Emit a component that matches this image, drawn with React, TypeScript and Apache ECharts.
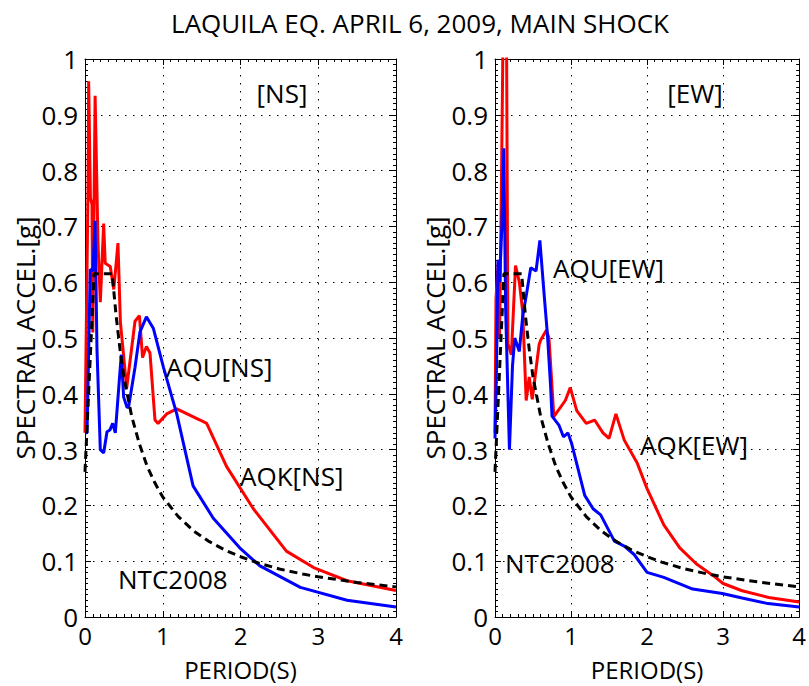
import React, { useEffect, useRef } from "react";
import * as echarts from "echarts";

const TITLE = "LAQUILA EQ. APRIL 6, 2009, MAIN SHOCK";
const X_NAME = "PERIOD(S)";
const Y_NAME = "SPECTRAL ACCEL.[g]";

// Period (s), spectral acceleration (g)
const NTC2008: number[][] = [
  [0, 0.26], [0.117, 0.615], [0.35, 0.615], [0.4, 0.54], [0.45, 0.48], [0.5, 0.43],
  [0.6, 0.36], [0.7, 0.31], [0.8, 0.27], [0.9, 0.24], [1.0, 0.215], [1.2, 0.18],
  [1.4, 0.154], [1.6, 0.135], [1.8, 0.12], [2.0, 0.108], [2.2, 0.098], [2.5, 0.086],
  [2.8, 0.077], [3.0, 0.072], [3.5, 0.062], [4.0, 0.054],
];

const AQK_NS: number[][] = [
  [0, 0.33], [0.039, 0.77], [0.047, 0.96], [0.07, 0.75], [0.09, 0.74], [0.1, 0.51],
  [0.13, 0.934], [0.167, 0.67], [0.197, 0.564], [0.24, 0.705], [0.26, 0.634],
  [0.325, 0.628], [0.37, 0.587], [0.424, 0.67], [0.455, 0.529], [0.536, 0.41],
  [0.643, 0.53], [0.7, 0.54], [0.74, 0.465], [0.79, 0.485], [0.836, 0.473],
  [0.9, 0.353], [0.94, 0.347], [1.05, 0.364], [1.18, 0.373], [1.48, 0.353],
  [1.565, 0.347], [1.82, 0.27], [2.165, 0.194], [2.59, 0.118], [2.94, 0.0886],
  [3.37, 0.065], [4.0, 0.0475],
];

const AQU_NS: number[][] = [
  [0, 0.33], [0.026, 0.33], [0.068, 0.623], [0.1, 0.62], [0.13, 0.71], [0.154, 0.48],
  [0.197, 0.3], [0.24, 0.294], [0.283, 0.332], [0.32, 0.335], [0.356, 0.347],
  [0.39, 0.33], [0.45, 0.44], [0.467, 0.47], [0.497, 0.394], [0.54, 0.376],
  [0.56, 0.376], [0.643, 0.447], [0.707, 0.511], [0.79, 0.538], [0.88, 0.517],
  [1.01, 0.447], [1.18, 0.364], [1.39, 0.235], [1.65, 0.177], [1.99, 0.124],
  [2.25, 0.0915], [2.77, 0.053], [3.37, 0.03], [4.0, 0.018],
];

const AQK_EW: number[][] = [
  [0, 0.33], [0.013, 0.57], [0.045, 0.64], [0.06, 0.5], [0.085, 0.78], [0.11, 1.1],
  [0.15, 1.1], [0.17, 0.49], [0.215, 0.47], [0.27, 0.63], [0.32, 0.6], [0.365, 0.546],
  [0.41, 0.388], [0.45, 0.43], [0.49, 0.39], [0.58, 0.488], [0.6, 0.496],
  [0.675, 0.514], [0.71, 0.5], [0.774, 0.359], [0.925, 0.388], [0.99, 0.411],
  [1.075, 0.37], [1.2, 0.347], [1.31, 0.353], [1.42, 0.33], [1.5, 0.32], [1.59, 0.364],
  [1.7, 0.317], [1.87, 0.276], [2.0, 0.23], [2.22, 0.165], [2.43, 0.124],
  [2.65, 0.095], [2.9, 0.071], [3.0, 0.06], [3.25, 0.047], [3.6, 0.035], [4.0, 0.027],
];

const AQU_EW: number[][] = [
  [0, 0.32], [0.02, 0.45], [0.04, 0.64], [0.06, 0.6], [0.09, 0.7], [0.116, 0.84],
  [0.14, 0.55], [0.19, 0.3], [0.23, 0.45], [0.26, 0.5], [0.32, 0.476], [0.365, 0.54],
  [0.416, 0.58], [0.47, 0.626], [0.54, 0.62], [0.59, 0.675], [0.645, 0.58],
  [0.69, 0.505], [0.73, 0.417], [0.75, 0.36], [0.84, 0.344], [0.9, 0.323],
  [0.96, 0.33], [1.01, 0.31], [1.18, 0.218], [1.29, 0.194], [1.39, 0.183],
  [1.57, 0.136], [1.7, 0.127], [1.83, 0.112], [2.0, 0.08], [2.22, 0.071],
  [2.6, 0.05], [2.99, 0.042], [3.25, 0.034], [3.59, 0.024], [4.0, 0.018],
];

const FONT = "'Open Sans', sans-serif";
const FS = 26;
const FSX = 24;

function xAxisDef(gridIndex: number, top: boolean) {
  return {
    type: "value",
    gridIndex,
    position: top ? "top" : "bottom",
    min: 0,
    max: 4,
    interval: 1,
    name: top ? "" : X_NAME,
    nameLocation: "middle",
    nameGap: 42,
    nameTextStyle: { fontSize: FSX, color: "#000", fontFamily: FONT, lineHeight: 20 },
    axisLine: { show: true, onZero: false, lineStyle: { color: "#000", width: 1 } },
    axisTick: { show: true, inside: true, length: 6, lineStyle: { color: "#000" } },
    minorTick: { show: true, splitNumber: 10, length: 3, lineStyle: { color: "#000" } },
    axisLabel: {
      show: !top, fontSize: FSX, color: "#000", fontFamily: FONT,
      margin: 8, lineHeight: 20,
    },
    splitLine: {
      show: !top,
      lineStyle: { color: "#000", width: 1, type: [1.5, 6.5] },
    },
  };
}

function yAxisDef(gridIndex: number, right: boolean) {
  return {
    type: "value",
    gridIndex,
    position: right ? "right" : "left",
    min: 0,
    max: 1,
    interval: 0.1,
    name: right ? "" : Y_NAME,
    nameLocation: "middle",
    nameGap: 42,
    nameTextStyle: { fontSize: FS, color: "#000", fontFamily: FONT },
    axisLine: { show: true, onZero: false, lineStyle: { color: "#000", width: 1 } },
    axisTick: { show: true, inside: true, length: 6, lineStyle: { color: "#000" } },
    minorTick: { show: true, splitNumber: 10, length: 3, lineStyle: { color: "#000" } },
    axisLabel: { show: !right, fontSize: FS, color: "#000", fontFamily: FONT, margin: 7 },
    splitLine: {
      show: !right,
      lineStyle: { color: "#000", width: 1, type: [1.5, 6.5] },
    },
  };
}

function lineSeries(data: number[][], axis: number, color: string, dashed: boolean) {
  return {
    type: "line",
    xAxisIndex: axis,
    yAxisIndex: axis,
    data,
    showSymbol: false,
    symbol: "none",
    clip: true,
    z: dashed ? 5 : 3,
    lineStyle: { color, width: 3, type: dashed ? [8, 5] : "solid" },
  };
}

function label(text: string, x: number, y: number, align = "left") {
  return {
    type: "text",
    x,
    y,
    z: 10,
    style: {
      text,
      fill: "#000",
      fontSize: FS,
      fontFamily: FONT,
      align,
      verticalAlign: "middle",
    },
  };
}

export default function App() {
  const ref = useRef<HTMLDivElement>(null);
  useEffect(() => {
    if (!ref.current) return;
    const chart = echarts.init(ref.current, null, { renderer: "svg" });
    chart.setOption({
      animation: false,
      backgroundColor: "#fff",
      textStyle: { fontFamily: FONT },
      grid: [
        { left: 85, top: 59, width: 311, height: 568 },
        { left: 495, top: 59, width: 310, height: 568 },
      ],
      xAxis: [xAxisDef(0, false), xAxisDef(0, true), xAxisDef(1, false), xAxisDef(1, true)],
      yAxis: [yAxisDef(0, false), yAxisDef(0, true), yAxisDef(1, false), yAxisDef(1, true)],
      series: [
        lineSeries(AQK_NS, 0, "#ff0000", false),
        lineSeries(AQU_NS, 0, "#0000ff", false),
        lineSeries(NTC2008, 0, "#000000", true),
        lineSeries(AQK_EW, 2, "#ff0000", false),
        lineSeries(AQU_EW, 2, "#0000ff", false),
        lineSeries(NTC2008, 2, "#000000", true),
      ],
      graphic: [
        label(TITLE, 420, 23, "center"),
        label("[NS]", 282, 93, "center"),
        label("[EW]", 695, 93, "center"),
        label("AQU[NS]", 166, 367),
        label("AQK[NS]", 240, 476),
        label("NTC2008", 118, 579),
        label("AQU[EW]", 553, 268),
        label("AQK[EW]", 640, 445),
        label("NTC2008", 505, 563),
      ],
    });
    return () => chart.dispose();
  }, []);
  return (
    <div style={{ position: "fixed", left: 0, top: 0, width: 809, height: 686, background: "#fff" }}>
      <div ref={ref} style={{ width: 809, height: 686 }} />
    </div>
  );
}
